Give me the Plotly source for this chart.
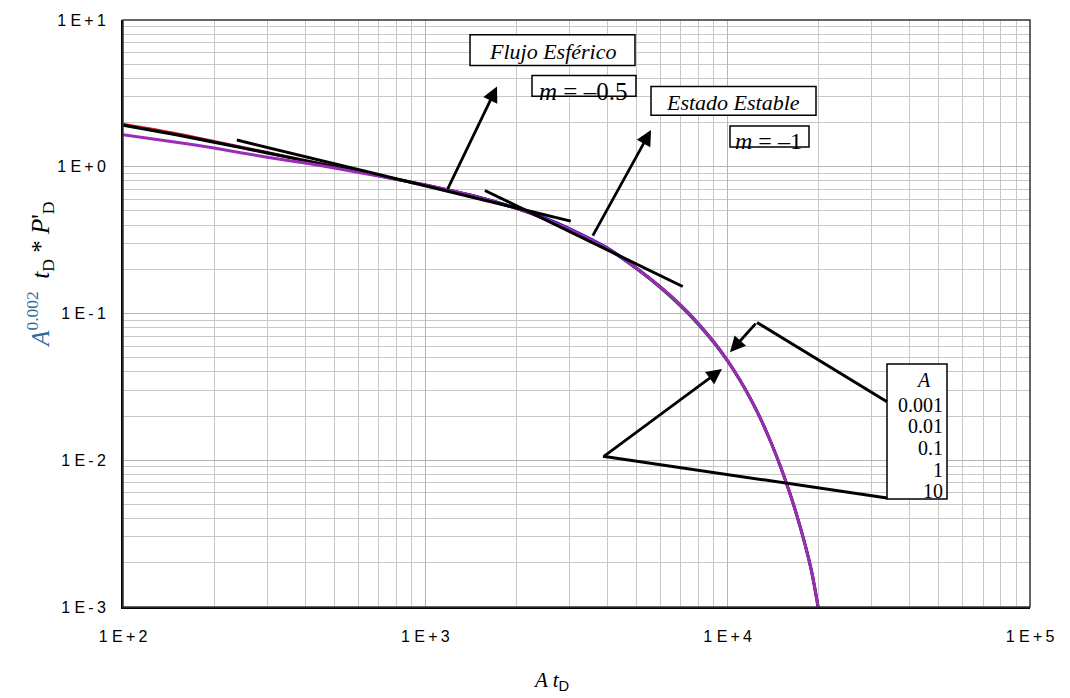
import plotly.graph_objects as go

# ---------------- data ----------------
x_td = [100, 150, 200, 300, 400, 500, 700, 1000, 1500, 2000, 2500, 3000, 4000, 5000,
        6000, 7000, 8000, 9000, 10000, 11000, 12000, 13000, 14000, 15000, 16000,
        17000, 18000, 19000, 20000]

y_a0001 = [1.96, 1.69, 1.50, 1.26, 1.11, 1.01, 0.875, 0.752, 0.622, 0.522, 0.442, 0.376, 0.278,
           0.203, 0.151, 0.1135, 0.0853, 0.0639, 0.0475, 0.0351, 0.0256, 0.0183, 0.0129,
           0.0090, 0.0061, 0.0041, 0.0027, 0.0017, 0.00095]
y_a001 = [1.93, 1.66, 1.48, 1.25, 1.10, 1.00, 0.87, 0.75, 0.625, 0.528, 0.449, 0.382, 0.282,
          0.205, 0.151, 0.1135, 0.0853, 0.0639, 0.0475, 0.0349, 0.0254, 0.0182, 0.0128,
          0.0089, 0.0061, 0.0041, 0.0027, 0.0017, 0.00095]
y_a01 = [1.92, 1.65, 1.47, 1.24, 1.10, 1.00, 0.87, 0.75, 0.62, 0.52, 0.44, 0.375, 0.276,
         0.200, 0.148, 0.1105, 0.0832, 0.0627, 0.0470, 0.0347, 0.0253, 0.0181, 0.0128,
         0.0089, 0.0061, 0.0041, 0.0027, 0.0017, 0.00095]
y_a1 = [1.92, 1.65, 1.47, 1.24, 1.10, 1.00, 0.87, 0.75, 0.62, 0.52, 0.44, 0.375, 0.277,
        0.2025, 0.151, 0.1135, 0.0853, 0.0639, 0.0475, 0.0349, 0.0254, 0.0182, 0.0128,
        0.0089, 0.0061, 0.0041, 0.0027, 0.0017, 0.00095]
y_a10 = [1.65, 1.47, 1.34, 1.16, 1.06, 0.98, 0.865, 0.75, 0.62, 0.52, 0.44, 0.375, 0.277,
         0.2025, 0.151, 0.1135, 0.0853, 0.0639, 0.0475, 0.0349, 0.0254, 0.0182, 0.0128,
         0.0089, 0.0061, 0.0041, 0.0027, 0.0017, 0.00095]

series_names = ["0.001", "0.01", "0.1", "1", "10"]
series_colors = ["#D01818", "#1A1AE6", "#1E8C2E", "#000000", "#9A2DB8"]
series_widths = [2, 2, 2, 3, 3]

# tangent lines (straight lines on log-log)
sph_x = [238, 3027]
sph_y = [1.52, 1.52 * (3027 / 238) ** -0.5]
ss_x = [1574, 7100]
ss_y = [0.689, 0.689 * (7100 / 1574) ** -1]

x_tickvals = [100, 1000, 10000, 100000]
x_ticktext = ["1 E\u2009+\u20092", "1 E\u2009+\u20093", "1 E\u2009+\u20094", "1 E\u2009+\u20095"]
y_tickvals = [0.001, 0.01, 0.1, 1, 10]
y_ticktext = ["1 E\u2009-\u20093", "1 E\u2009-\u20092", "1 E\u2009-\u20091",
              "1 E\u2009+\u20090", "1 E\u2009+\u20091"]

legend_labels = ["0.001", "0.01", "0.1", "1", "10"]

# ---------------- layout helpers ----------------
L, R, T, B = 123, 40, 15, 91
W, H = 1070, 698
PW, PH = W - L - R, H - T - B


def P(px, py):
    return (px - L) / PW, (H - B - py) / PH


SERIF = "Liberation Serif, Times New Roman, serif"
SANS = "Liberation Sans, Arial, sans-serif"

fig = go.Figure()

for ys, name, col, w in zip([y_a0001, y_a001, y_a01, y_a1, y_a10], series_names,
                            series_colors, series_widths):
    fig.add_trace(go.Scatter(x=x_td, y=ys, mode="lines", name=name,
                             line=dict(color=col, width=w, shape="spline", smoothing=0.8),
                             showlegend=False))

for tx, ty in [(sph_x, sph_y), (ss_x, ss_y)]:
    fig.add_trace(go.Scatter(x=tx, y=ty, mode="lines", line=dict(color="black", width=3),
                             showlegend=False))

shapes = []
annotations = []


def rect(x0, y0, x1, y1):
    a0, b0 = P(x0, y1)
    a1, b1 = P(x1, y0)
    shapes.append(dict(type="rect", xref="paper", yref="paper", x0=a0, y0=b0, x1=a1, y1=b1,
                       line=dict(color="black", width=1.5), fillcolor="white", layer="above"))


def line(x0, y0, x1, y1):
    a0, b0 = P(x0, y0)
    a1, b1 = P(x1, y1)
    shapes.append(dict(type="line", xref="paper", yref="paper", x0=a0, y0=b0, x1=a1, y1=b1,
                       line=dict(color="black", width=3), layer="above"))


def arrow(tx, ty, hx, hy):
    a, b = P(hx, hy)
    annotations.append(dict(xref="paper", yref="paper", x=a, y=b, ax=tx - hx, ay=ty - hy,
                            text="", showarrow=True, arrowhead=2, arrowsize=1.1,
                            arrowwidth=2.8, arrowcolor="black", standoff=0))


def text(px, py, s, size, xanchor="center", family=SERIF, angle=0):
    a, b = P(px, py)
    annotations.append(dict(xref="paper", yref="paper", x=a, y=b, text=s, showarrow=False,
                            xanchor=xanchor, yanchor="middle", textangle=angle,
                            font=dict(family=family, size=size, color="black")))


# frame
shapes.append(dict(type="rect", xref="paper", yref="paper", x0=0, y0=0, x1=1, y1=1,
                   line=dict(color="#333333", width=1.5), layer="above"))

rect(470, 30, 635, 61)
rect(532, 71, 636, 92)
rect(651, 82, 816, 111)
rect(730, 122, 809, 143)
rect(887, 362, 947, 498)

text(552, 47, "<i>Flujo Esférico</i>", 22)
text(583, 87, "<i>m</i> = –0.5", 25)
text(768, 137, "<i>m</i> = –1", 24)
text(733, 98, "<i>Estado Estable</i>", 22)

text(923, 378, "<i>A</i>", 20)
for i, lab in enumerate(legend_labels):
    text(945, 403 + i * 21.8, lab, 20, xanchor="right")

arrow(447, 186, 497, 82)
arrow(592, 233, 651, 126)
arrow(757, 320, 730, 350)
arrow(603, 455, 722, 367)
line(757, 320, 887, 400)
line(603, 455, 887, 497)

# axis titles
text(40, 272, '<span style="color:#2B6CA3"><i>A</i><sup>0.002</sup></span>  '
              '<i>t</i><sub>D</sub> * <i>P</i>\'<sub>D</sub>', 25, angle=-90)
text(551, 682, '<i>A t</i><sub><span style="font-family:Liberation Sans">D</span></sub>', 21)

fig.update_layout(
    width=W, height=H,
    margin=dict(l=L, r=R, t=T, b=B),
    paper_bgcolor="white", plot_bgcolor="white",
    shapes=shapes, annotations=annotations,
    xaxis=dict(type="log", range=[2, 5], tickvals=x_tickvals, ticktext=x_ticktext,
               showgrid=True, gridcolor="#B4B4B4", gridwidth=1,
               minor=dict(dtick="D1", showgrid=True, gridcolor="#C8C8C8", gridwidth=1),
               showline=True, linecolor="black", linewidth=2, zeroline=False,
               ticks="", ticklabelstandoff=14,
               tickfont=dict(family=SANS, size=16, color="black")),
    yaxis=dict(type="log", range=[-3, 1], tickvals=y_tickvals, ticktext=y_ticktext,
               showgrid=True, gridcolor="#B4B4B4", gridwidth=1,
               minor=dict(dtick="D1", showgrid=True, gridcolor="#C8C8C8", gridwidth=1),
               showline=True, linecolor="black", linewidth=2, zeroline=False,
               ticks="", ticklabelstandoff=12,
               tickfont=dict(family=SANS, size=16, color="black")),
)

fig.write_html("out.html")
